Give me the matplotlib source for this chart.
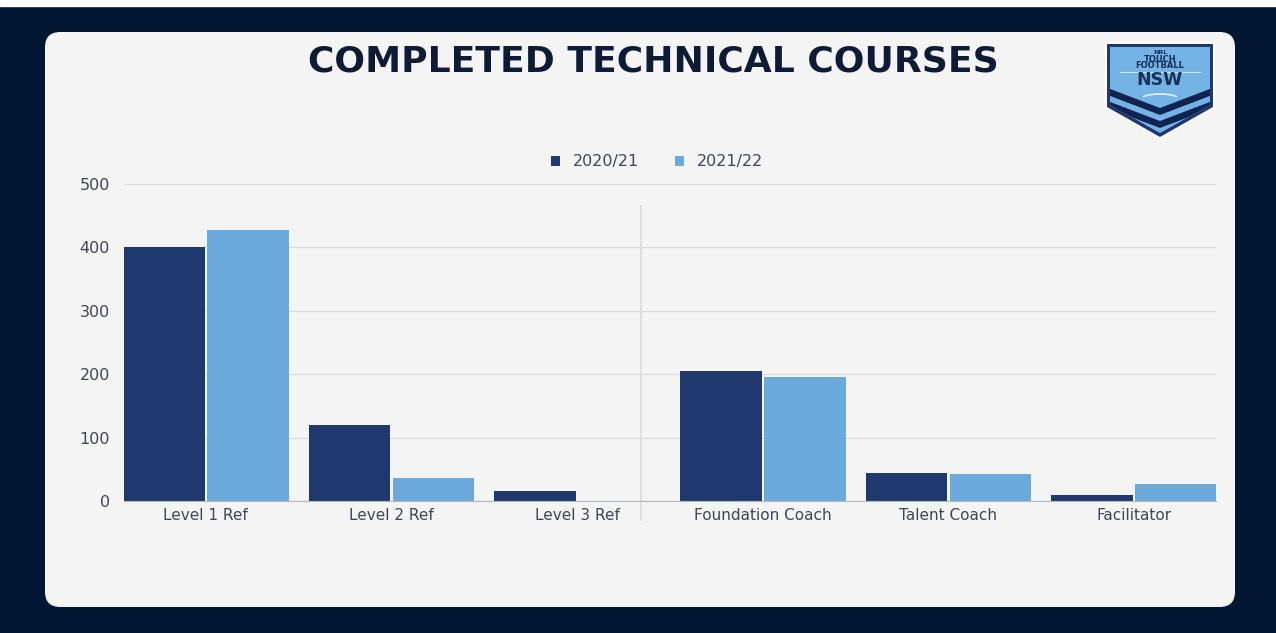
import matplotlib
matplotlib.use("Agg")
import matplotlib.pyplot as plt
import numpy as np
from matplotlib.patches import FancyBboxPatch, Rectangle, Polygon

categories = ["Level 1 Ref", "Level 2 Ref", "Level 3 Ref", "Foundation Coach", "Talent Coach", "Facilitator"]
series_names = ["2020/21", "2021/22"]
values_2020 = [401, 120, 16, 205, 44, 9]
values_2021 = [427, 36, 0, 196, 43, 27]
yticks = [0, 100, 200, 300, 400, 500]

W, H = 1276, 633
BG = "#011631"
CARD = "#f4f4f4"
DARK = "#1f396e"
LIGHT = "#6caadc"
TXT = "#3d4658"
FONT = "DejaVu Sans"

fig = plt.figure(figsize=(W / 100, H / 100), dpi=100)
fig.patch.set_facecolor(BG)

def fx(px):
    return px / W

def fy(py):
    return 1 - py / H

# white strip at top
fig.patches.append(Rectangle((0, fy(6)), 1, 6 / H, transform=fig.transFigure, color="white", zorder=-2))
# card
card = FancyBboxPatch((fx(45), fy(607)), fx(1235) - fx(45), fy(32) - fy(607),
                      boxstyle="round,pad=0,rounding_size=0.012", mutation_aspect=W / H,
                      transform=fig.transFigure, facecolor=CARD, edgecolor="none", zorder=-2)
fig.patches.append(card)

ax = fig.add_axes([fx(124), fy(501), fx(1216) - fx(124), fy(184) - fy(501)])
ax.set_facecolor("none")
x = np.arange(len(categories))
bw = 0.44
g = 0.006
b1 = ax.bar(x - bw / 2 - g, values_2020, width=bw, color=DARK, label=series_names[0], zorder=3)
b2 = ax.bar(x + bw / 2 + g, values_2021, width=bw, color=LIGHT, label=series_names[1], zorder=3)
ax.set_ylim(0, 500)
ax.set_xlim(-0.5 + 0.059, len(categories) - 0.5 - 0.059)
ax.set_yticks(yticks)
ax.set_xticks(x)
ax.set_xticklabels(categories, fontsize=11, color=TXT, family=FONT)
for lab in ax.get_yticklabels():
    lab.set_fontsize(11.5)
    lab.set_color(TXT)
    lab.set_family(FONT)
ax.tick_params(axis="both", length=0)
ax.tick_params(axis="y", pad=10)
ax.tick_params(axis="x", pad=5)
ax.grid(axis="y", color="#dedede", linewidth=1, zorder=0)
for s in ["top", "right", "left"]:
    ax.spines[s].set_visible(False)
ax.spines["bottom"].set_color("#b3b7bf")
ax.spines["bottom"].set_zorder(4)

# separator between referee and coach groups
ax.plot([2.344, 2.344], [466, -30], color="#dadada", linewidth=1.2, clip_on=False, zorder=1)

leg = ax.legend(handles=[b1, b2], loc="center",
                bbox_to_anchor=((fx(657) - fx(124)) / (fx(1216) - fx(124)), (fy(162) - fy(501)) / (fy(184) - fy(501))),
                bbox_transform=ax.transAxes, ncol=2, frameon=False, handlelength=0.55, handleheight=0.55,
                handletextpad=0.8, columnspacing=2.3, prop={"family": FONT, "size": 11.5})
for t in leg.get_texts():
    t.set_color(TXT)

fig.text(fx(653), fy(62), "COMPLETED TECHNICAL COURSES", ha="center", va="center",
         fontsize=26, fontweight="heavy", family=FONT, color="#0d1b36")

# logo
lg = fig.add_axes([fx(1105), fy(140), 110 / W, 100 / H])
lg.set_xlim(0, 110)
lg.set_ylim(100, 0)
lg.axis("off")
outer = [(0, 2), (110, 2), (110, 68), (55, 99), (0, 68)]
lg.add_patch(Polygon(outer, closed=True, facecolor="white", edgecolor="none"))
mid = [(2, 4), (108, 4), (108, 67), (55, 97), (2, 67)]
lg.add_patch(Polygon(mid, closed=True, facecolor=DARK, edgecolor="none"))
inner = [(5, 7), (105, 7), (105, 65), (55, 93), (5, 65)]
shield = Polygon(inner, closed=True, facecolor="#73b3e6", edgecolor="none")
lg.add_patch(shield)
for ytop in [47, 60]:
    chev = Polygon([(0, ytop), (55, ytop + 21), (110, ytop), (110, ytop + 7), (55, ytop + 28), (0, ytop + 7)],
                   closed=True, facecolor="#0f2450", edgecolor="none")
    lg.add_patch(chev)
    chev.set_clip_path(shield)
lg.text(55, 12, "NRL", ha="center", va="center", fontsize=4.5, fontweight="bold", color="#1a2f5c")
lg.text(55, 19, "TOUCH", ha="center", va="center", fontsize=6, fontweight="bold", color="#1a2f5c")
lg.text(55, 26, "FOOTBALL", ha="center", va="center", fontsize=6, fontweight="bold", color="#1a2f5c")
lg.plot([15, 95], [31.5, 31.5], color="#d6ebf9", linewidth=0.8)
lg.text(55, 40, "NSW", ha="center", va="center", fontsize=12.5, fontweight="heavy", color="#1a2f5c")
th = np.linspace(np.pi * 0.2, np.pi * 0.8, 30)
lg.plot(55 + 20 * np.cos(th), 60 - 6 * np.sin(th), color="#e6f3fc", linewidth=1.2)

fig.savefig("out.png", dpi=100, facecolor=fig.get_facecolor())
